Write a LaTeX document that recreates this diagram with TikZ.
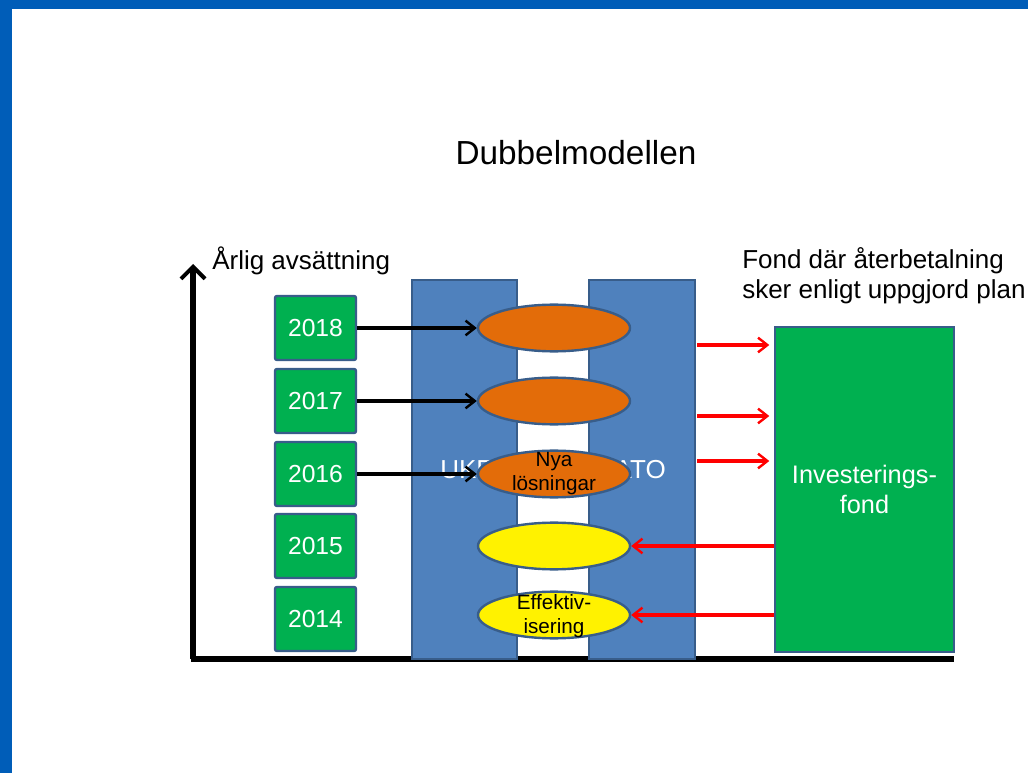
\documentclass[tikz,border=0pt]{standalone}
\usepackage{fontspec}
\setmainfont{Liberation Sans}
\usetikzlibrary{arrows.meta,shapes.geometric}
\definecolor{framebl}{RGB}{0,93,184}
\definecolor{colbl}{RGB}{79,129,189}
\definecolor{edgebl}{RGB}{56,93,138}
\definecolor{boxgr}{RGB}{0,176,80}
\definecolor{orng}{RGB}{227,108,9}
\tikzset{
  yearbox/.style={draw=edgebl,line width=1.8pt,fill=boxgr,rounded corners=1.5pt,minimum width=60.75pt,minimum height=48pt,inner sep=0pt,text=white,font=\fontsize{18.5}{20}\selectfont},
  column/.style={draw=edgebl,line width=1.2pt,fill=colbl},
  oval/.style={ellipse,draw=edgebl,line width=1.8pt,minimum width=114pt,minimum height=35pt,inner sep=0pt,font=\fontsize{15.5}{17}\selectfont,align=center},
  blackarr/.style={-{Straight Barb[length=7pt,width=11pt,line width=1.8pt]},line width=2.3pt,black},
  redarr/.style={-{Straight Barb[length=7pt,width=11pt,line width=1.8pt]},line width=2.3pt,red},
  lbl/.style={font=\fontsize{19.5}{22.5}\selectfont,inner sep=0pt,align=left},
}
\begin{document}
\begin{tikzpicture}[x=0.75pt,y=-0.75pt]
\useasboundingbox (0,0) rectangle (1028,773);
\fill[white] (0,0) rectangle (1028,773);
\fill[framebl] (0,0) rectangle (1028,9);
\fill[framebl] (0,0) rectangle (12,773);
% title
\node[font=\fontsize{25}{28}\selectfont] (title) at (576,153) {Dubbelmodellen};
% axes
\coordinate (origin) at (193,659);
\coordinate (ytop) at (193,264);
\coordinate (xend) at (954,659);
\draw[line width=3.8pt,-{Straight Barb[length=9pt,width=18pt,line width=3pt]}] (origin) -- (ytop);
\draw[line width=3.8pt] ([xshift=-1.4pt]origin) -- (xend);
\node[lbl,anchor=west] (arlig) at (212,261) {Årlig avsättning};
\node[lbl,anchor=north west] (fondtxt) at (742,247) {Fond där återbetalning\\sker enligt uppgjord plan};
% columns
\draw[column] (412,280) rectangle (517,659);
\draw[column] (589,280) rectangle (695,659);
\node[lbl,text=white,anchor=west] (uke) at (440,470) {UKE};
\node[lbl,text=white,anchor=east] (ato) at (666,470) {ATO};
% year boxes
\node[yearbox] (y2018) at (315.5,328) {2018};
\node[yearbox] (y2017) at (315.5,401) {2017};
\node[yearbox] (y2016) at (315.5,474) {2016};
\node[yearbox] (y2015) at (315.5,546) {2015};
\node[yearbox] (y2014) at (315.5,619) {2014};
% ellipses
\node[oval,fill=orng] (e2018) at (554,328) {};
\node[oval,fill=orng] (e2017) at (554,401) {};
\node[oval,fill=orng] (e2016) at (554,474) {};
\node[font=\fontsize{15.5}{18}\selectfont,align=center,inner sep=0pt] (t2016) at (554,474) {Nya\\lösningar};
\node[oval,fill=yellow] (e2015) at (554,546) {};
\node[oval,fill=yellow] (e2014) at (554,615) {};
\node[font=\fontsize{15.5}{18}\selectfont,align=center,inner sep=0pt] (t2014) at (554,616) {Effektiv-\\isering};
% fund box
\node[draw=edgebl,line width=1.8pt,fill=boxgr,minimum width=134pt,minimum height=243.75pt,inner sep=0pt,text=white,align=center,font=\fontsize{19}{22.5}\selectfont] (fund) at (864.5,489.5) {Investerings-\\fond};
% black arrows
\draw[blackarr] (y2018.east) -- (e2018.west);
\draw[blackarr] (y2017.east) -- (e2017.west);
\draw[blackarr] (y2016.east) -- (e2016.west);
% red arrows right
\coordinate (r1s) at (697,345);
\coordinate (r2s) at (697,416);
\coordinate (r3s) at (697,461);
\draw[redarr,shorten >=3.5pt] (r1s) -- (r1s -| fund.west);
\draw[redarr,shorten >=3.5pt] (r2s) -- (r2s -| fund.west);
\draw[redarr,shorten >=3.5pt] (r3s) -- (r3s -| fund.west);
% red arrows left
\draw[redarr] (fund.west |- e2015.east) -- (e2015.east);
\draw[redarr] (fund.west |- e2014.east) -- (e2014.east);
\end{tikzpicture}
\end{document}
